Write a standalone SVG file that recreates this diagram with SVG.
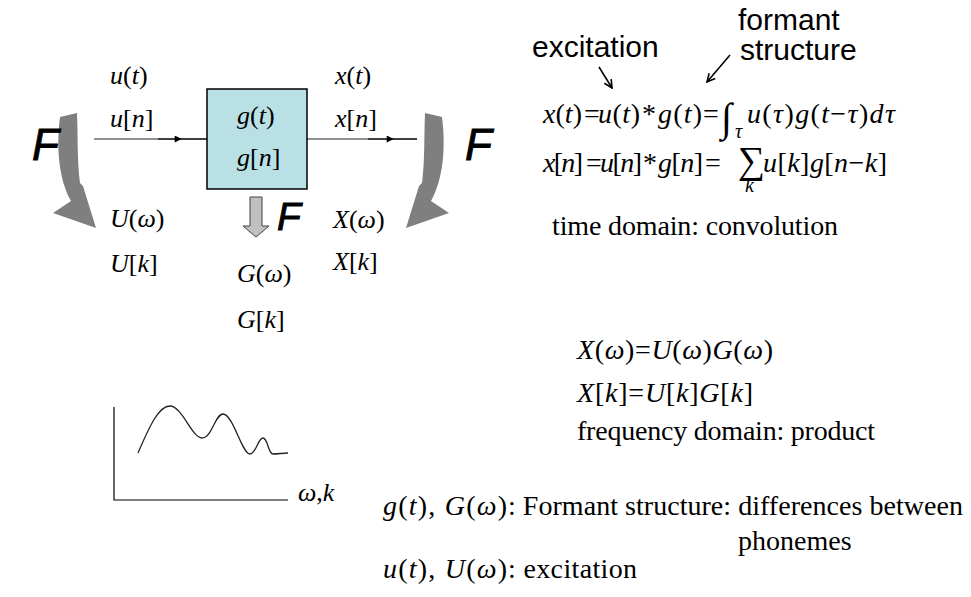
<svg xmlns="http://www.w3.org/2000/svg" width="971" height="597" viewBox="0 0 971 597">
<style>
.m{font-family:"Liberation Serif","Times New Roman",serif;font-size:26px;fill:#000}
.eq{font-family:"Liberation Serif","Times New Roman",serif;font-size:28px;fill:#000}
.txt{font-family:"Liberation Serif","Times New Roman",serif;font-size:28px;fill:#000}
.i{font-style:italic}
.sans{font-family:"Liberation Sans",Arial,sans-serif;font-size:30px;fill:#000}
.F{font-family:"Liberation Sans",Arial,sans-serif;font-style:italic;font-size:44px;fill:#000;stroke:#000;stroke-width:0.9}
.ln{stroke:#000;stroke-width:1.3;fill:none}
.lg{stroke:#6a6a6a;stroke-width:1.6;fill:none}
.big{fill:#7f7f7f}
.small{stroke:#000;stroke-width:1.6;fill:none}
</style>
<defs>
<marker id="tri" viewBox="0 0 10 10" refX="9" refY="5" markerWidth="8" markerHeight="7" markerUnits="userSpaceOnUse" orient="auto">
<path d="M0,0 L10,5 L0,10 Z" fill="#000"/>
</marker>
<marker id="open" viewBox="0 0 10 10" refX="9" refY="5" markerWidth="10" markerHeight="10" markerUnits="userSpaceOnUse" orient="auto">
<path d="M1,1 L9,5 L1,9" fill="none" stroke="#000" stroke-width="1.6"/>
</marker>
<path id="curv" d="M60,117 C56,148 59,180 71,201 L53,213 L96,228 L83,186 L80,183 C77,160 78,135 77,113 Z"/>
</defs>
<rect width="971" height="597" fill="#fff"/>

<g id="connectors">
<line class="lg" x1="94" y1="139" x2="158" y2="139"/>
<polyline class="ln" points="158,139 181,139 207,139" marker-mid="url(#tri)"/>
<line class="lg" x1="307" y1="139" x2="368" y2="139"/>
<polyline class="ln" points="368,139 393,139 417,139" marker-mid="url(#tri)"/>
<use href="#curv" class="big"/>
<use href="#curv" class="big" transform="translate(502,0) scale(-1,1)"/>
<path d="M250,197 L262,197 L262,226 L269,226 L256,237 L243,226 L250,226 Z" fill="#c0c0c0" stroke="#404040" stroke-width="1"/>
<line class="small" x1="599" y1="67" x2="612" y2="88" marker-end="url(#open)"/>
<line class="small" x1="730" y1="55" x2="707" y2="82" marker-end="url(#open)"/>
</g>

<g id="system">
<rect x="207" y="89" width="100" height="100" fill="#b9e1e5" stroke="#000" stroke-width="1.5"/>
<text class="m" x="237" y="124"><tspan class="i">g</tspan>(<tspan class="i">t</tspan>)</text>
<text class="m" x="237" y="166"><tspan class="i">g</tspan>[<tspan class="i">n</tspan>]</text>
</g>

<g id="input">
<text class="m" x="110" y="84"><tspan class="i">u</tspan>(<tspan class="i">t</tspan>)</text>
<text class="m" x="110" y="127"><tspan class="i">u</tspan>[<tspan class="i">n</tspan>]</text>
</g>

<g id="output">
<text class="m" x="335" y="84"><tspan class="i">x</tspan>(<tspan class="i">t</tspan>)</text>
<text class="m" x="335" y="127"><tspan class="i">x</tspan>[<tspan class="i">n</tspan>]</text>
</g>

<g id="input-spectrum">
<text class="m" x="110" y="227"><tspan class="i">U</tspan>(<tspan class="i">ω</tspan>)</text>
<text class="m" x="110" y="272"><tspan class="i">U</tspan>[<tspan class="i">k</tspan>]</text>
</g>

<g id="system-spectrum">
<text class="m" x="237" y="282"><tspan class="i">G</tspan>(<tspan class="i">ω</tspan>)</text>
<text class="m" x="237" y="328"><tspan class="i">G</tspan>[<tspan class="i">k</tspan>]</text>
</g>

<g id="output-spectrum">
<text class="m" x="333" y="228"><tspan class="i">X</tspan>(<tspan class="i">ω</tspan>)</text>
<text class="m" x="333" y="270"><tspan class="i">X</tspan>[<tspan class="i">k</tspan>]</text>
</g>

<g id="F-labels">
<text class="F" x="32" y="160">F</text>
<text class="F" x="465" y="160">F</text>
<text class="F" x="277" y="230" style="font-size:39px">F</text>
</g>

<g id="annotations">
<text class="sans" x="532" y="57">excitation</text>
<text class="sans" x="738" y="30">formant</text>
<text class="sans" x="740" y="60">structure</text>
</g>

<g id="convolution">
<text class="eq" x="543" y="123" textLength="39" lengthAdjust="spacing"><tspan class="i">x</tspan>(<tspan class="i">t</tspan>)</text>
<text class="eq" x="584" y="123">=</text>
<text class="eq" x="598" y="123" textLength="42" lengthAdjust="spacing"><tspan class="i">u</tspan>(<tspan class="i">t</tspan>)</text>
<text class="eq" x="642" y="123">*</text>
<text class="eq" x="658" y="123" textLength="44" lengthAdjust="spacing"><tspan class="i">g</tspan>(<tspan class="i">t</tspan>)</text>
<text class="eq" x="703" y="123">=</text>
<text class="eq" x="721" y="131" style="font-size:40px">∫</text>
<text class="eq i" x="735" y="138" style="font-size:20px">τ</text>
<text class="eq" x="747" y="123" textLength="148" lengthAdjust="spacing"><tspan class="i">u</tspan>(<tspan class="i">τ</tspan>)<tspan class="i">g</tspan>(<tspan class="i">t</tspan>−<tspan class="i">τ</tspan>)<tspan class="i">dτ</tspan></text>

<text class="eq" x="543" y="172" textLength="40" lengthAdjust="spacing"><tspan class="i">x</tspan>[<tspan class="i">n</tspan>]</text>
<text class="eq" x="586" y="172">=</text>
<text class="eq" x="600" y="172" textLength="42" lengthAdjust="spacing"><tspan class="i">u</tspan>[<tspan class="i">n</tspan>]</text>
<text class="eq" x="643" y="172">*</text>
<text class="eq" x="658" y="172" textLength="45" lengthAdjust="spacing"><tspan class="i">g</tspan>[<tspan class="i">n</tspan>]</text>
<text class="eq" x="705" y="172">=</text>
<text class="eq" x="738" y="173" style="font-size:38px">∑</text>
<text class="eq i" x="745" y="192" style="font-size:20px">k</text>
<text class="eq" x="763" y="172" textLength="124" lengthAdjust="spacing"><tspan class="i">u</tspan>[<tspan class="i">k</tspan>]<tspan class="i">g</tspan>[<tspan class="i">n</tspan>−<tspan class="i">k</tspan>]</text>
<text class="txt" x="552" y="235" textLength="286" lengthAdjust="spacing">time domain: convolution</text>
</g>

<g id="product">
<text class="eq" x="577" y="359" textLength="196" lengthAdjust="spacing"><tspan class="i">X</tspan>(<tspan class="i">ω</tspan>)=<tspan class="i">U</tspan>(<tspan class="i">ω</tspan>)<tspan class="i">G</tspan>(<tspan class="i">ω</tspan>)</text>
<text class="eq" x="577" y="402" textLength="176" lengthAdjust="spacing"><tspan class="i">X</tspan>[<tspan class="i">k</tspan>]=<tspan class="i">U</tspan>[<tspan class="i">k</tspan>]<tspan class="i">G</tspan>[<tspan class="i">k</tspan>]</text>
<text class="txt" x="577" y="440" textLength="298" lengthAdjust="spacing">frequency domain: product</text>
</g>

<g id="spectrum-plot">
<polyline points="114,407 114,500 288,500" fill="none" stroke="#000" stroke-width="1.2"/>
<path d="M138,453 C150,425 159,406 170,406 C182,406 192,438 202,438 C212,438 215,414 223,414 C233,414 242,454 250,454 C256,454 258,438 263,438 C268,438 268,454 273,454 C278,454 283,453 288,453" fill="none" stroke="#222" stroke-width="1.3"/>
<text class="m" x="298" y="501"><tspan class="i">ω</tspan>,<tspan class="i">k</tspan></text>
</g>

<g id="legend">
<text class="txt" x="383" y="515" textLength="124" lengthAdjust="spacing"><tspan class="i">g</tspan>(<tspan class="i">t</tspan>), <tspan class="i">G</tspan>(<tspan class="i">ω</tspan>)</text>
<text class="txt" x="508" y="515" textLength="455" lengthAdjust="spacing">: Formant structure: differences between</text>
<text class="txt" x="738" y="550">phonemes</text>
<text class="txt" x="383" y="578" textLength="124" lengthAdjust="spacing"><tspan class="i">u</tspan>(<tspan class="i">t</tspan>), <tspan class="i">U</tspan>(<tspan class="i">ω</tspan>)</text>
<text class="txt" x="508" y="578" textLength="129" lengthAdjust="spacing">: excitation</text>
</g>
</svg>
